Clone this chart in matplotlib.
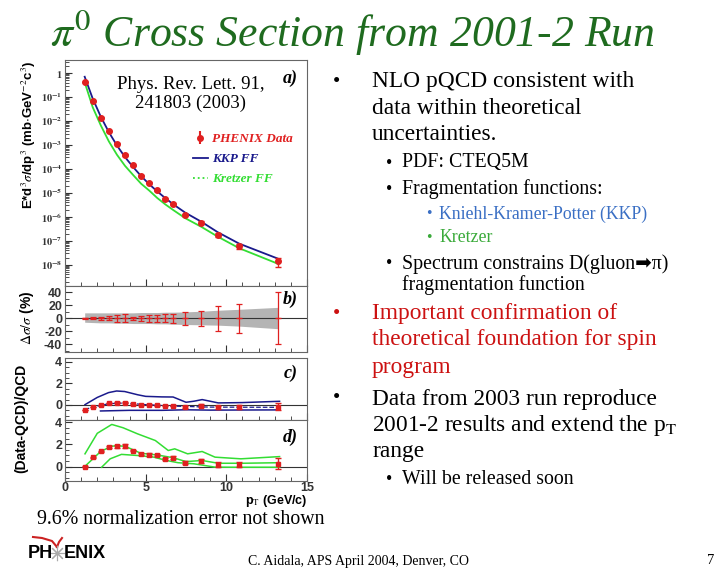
import matplotlib
matplotlib.use('Agg')
import matplotlib.pyplot as plt
import numpy as np
from matplotlib.lines import Line2D
from matplotlib.ticker import MultipleLocator, LogLocator, FixedLocator, NullFormatter

plt.rcParams['mathtext.fontset'] = 'stix'
plt.rcParams['axes.unicode_minus'] = False

# pi0 cross section data, PHENIX 2001-2 run
pt = [1.22, 1.72, 2.22, 2.72, 3.22, 3.72, 4.22, 4.72, 5.22, 5.72,
      6.22, 6.72, 7.45, 8.46, 9.46, 10.8, 13.2]
xsec = [0.41, 0.068, 0.0137, 3.8e-3, 1.1e-3, 3.8e-4, 1.4e-4, 5.2e-5, 2.6e-5, 1.26e-5,
        5.6e-6, 3.4e-6, 1.2e-6, 5.8e-7, 1.8e-7, 5.8e-8, 1.37e-8]
# relative stat error (%)
stat = [1, 1.5, 2, 3, 5, 6, 2, 4, 5, 5, 6, 7, 10, 12, 19, 22, 40]
# relative syst band (%)
syst_up = [8.5, 8.5, 8.5, 8.5, 8.5, 8.5, 8.5, 9, 9, 9, 9.5, 9.5, 10, 11, 12.5, 14, 17]
syst_dn = [6, 6.5, 7, 7, 7.5, 7.5, 8, 8, 8, 8.5, 8.5, 9, 9.5, 10, 10.5, 12, 16]

# NLO pQCD curves
kkp = [0.70, 0.085, 0.0150, 3.4e-3, 9.5e-4, 3.1e-4, 1.2e-4, 5.0e-5, 2.3e-5, 1.15e-5,
       6.0e-6, 3.3e-6, 1.5e-6, 6.2e-7, 2.3e-7, 7.6e-8, 1.8e-8]
kretzer = [0.41, 0.037, 6.5e-3, 1.4e-3, 3.9e-4, 1.34e-4, 5.6e-5, 2.4e-5, 1.25e-5, 6.1e-6,
           3.3e-6, 1.9e-6, 8.8e-7, 3.8e-7, 1.5e-7, 4.9e-8, 1.1e-8]

# (Data-QCD)/QCD
r_kkp = [-0.43, -0.19, 0.0, 0.19, 0.22, 0.22, 0.06, 0.0, 0.0, -0.03,
         -0.06, -0.06, -0.22, -0.06, -0.22, -0.22, -0.15]
r_kre = [0.0, 0.84, 1.38, 1.8, 1.83, 1.83, 1.41, 1.17, 1.08, 1.05,
         0.66, 0.81, 0.36, 0.54, 0.18, 0.18, 0.27]

# scale uncertainty lines, KKP
kkp_up_pt = [1.24, 2.0, 2.7, 3.2, 3.7, 4.5, 5.0, 6.0, 6.7, 7.5, 8.0, 8.5, 9.5, 11.0, 12.5, 13.3]
kkp_up = [0.03, 0.7, 1.15, 1.3, 1.25, 0.95, 0.8, 0.75, 0.74, 0.25, 0.35, 0.5, 0.19, 0.22, 0.3, 0.34]
kkp_lo_pt = [2.2, 4.0, 6.0, 7.5, 9.0, 11.0, 13.3]
kkp_lo = [-0.56, -0.5, -0.5, -0.45, -0.48, -0.47, -0.46]
kkp_mid_pt = [1.22, 2.7, 3.7, 5.0, 7.0, 9.0, 13.3]
kkp_mid = [-0.4, 0.12, 0.18, 0.03, -0.12, -0.2, -0.22]

# scale uncertainty lines, Kretzer
kre_up_pt = [1.24, 2.0, 2.9, 3.6, 4.5, 5.6, 6.4, 6.8, 7.6, 8.5, 9.3, 10.9, 13.3]
kre_up = [1.15, 3.0, 3.8, 3.5, 2.95, 2.35, 1.45, 1.6, 1.15, 1.36, 0.85, 0.7, 0.9]
kre_lo_pt = [2.27, 2.8, 3.5, 4.5, 5.5, 6.3, 7.0, 8.0, 9.3, 10.5, 13.3]
kre_lo = [-0.06, 0.7, 1.1, 1.0, 0.85, 0.55, 0.35, 0.25, -0.05, -0.06, -0.06]
kre_mid_pt = [1.22, 2.2, 2.9, 3.7, 4.7, 5.7, 6.7, 7.5, 8.5, 9.5, 11.0, 13.3]
kre_mid = [0.0, 1.35, 1.85, 1.85, 1.2, 1.05, 0.8, 0.45, 0.55, 0.3, 0.3, 0.35]

pt = np.array(pt)
xsec = np.array(xsec)
stat = np.array(stat)
r_kkp = np.array(r_kkp)
r_kre = np.array(r_kre)

red = '#e02020'
navy = '#1a1a8c'
green = '#33dd33'
sans = 'Liberation Sans'
serif = 'Liberation Serif'

fig = plt.figure(figsize=(7.2, 5.76), dpi=100)

def fx(px):
    return px / 720.0

def fy(py):
    return 1 - py / 576.0

L, W = fx(65), fx(307) - fx(65)
ax_a = fig.add_axes([L, fy(286), W, fy(60) - fy(286)])
ax_b = fig.add_axes([L, fy(352), W, fy(286) - fy(352)])
ax_c = fig.add_axes([L, fy(420), W, fy(358) - fy(420)])
ax_d = fig.add_axes([L, fy(481), W, fy(420) - fy(481)])

for ax in [ax_a, ax_b, ax_c, ax_d]:
    ax.set_xlim(0, 15)
    ax.xaxis.set_major_locator(MultipleLocator(5))
    ax.xaxis.set_minor_locator(MultipleLocator(1))
    ax.tick_params(which='both', direction='in', top=False, right=False,
                   labelsize=9, colors='#333333', pad=2)
    ax.tick_params(which='major', length=5)
    ax.tick_params(which='minor', length=3)
    for s in ax.spines.values():
        s.set_color('#666666')
        s.set_linewidth(0.8)
    if ax is not ax_d:
        ax.set_xticklabels([])

# panel a
ax_a.set_yscale('log')
ax_a.set_ylim(1.3e-9, 3.5)
ax_a.plot(pt, kkp, color=navy, lw=1.3)
ax_a.plot(pt, kretzer, color=green, lw=1.3)
ax_a.errorbar(pt, xsec, yerr=xsec * stat / 100, fmt='o', color=red, ms=4,
              elinewidth=1, capsize=2)
ax_a.yaxis.set_minor_locator(LogLocator(base=10, subs=np.arange(2, 10), numticks=20))
ax_a.yaxis.set_minor_formatter(NullFormatter())
ytl = ['$\\mathbf{1}$'] + ['$\\mathbf{10^{-%d}}$' % k for k in range(1, 9)]
ax_a.set_yticks([10.0 ** -k for k in range(0, 9)])
ax_a.set_yticklabels(ytl, fontsize=7.5)
ax_a.text(0.96, 0.955, 'a)', transform=ax_a.transAxes, ha='right', va='top',
          fontsize=13, fontweight='bold', style='italic', family=serif)
ax_a.text(0.52, 0.93, 'Phys. Rev. Lett. 91,\n241803 (2003)', transform=ax_a.transAxes,
          ha='center', va='top', fontsize=13.5, family=serif, linespacing=1.15)

h_data = ax_a.errorbar([], [], yerr=[], fmt='o', color=red, ms=4, capsize=2)
h_kkp = Line2D([], [], color=navy, lw=1.3)
h_kre = Line2D([], [], color=green, lw=1.3, ls=':')
leg = ax_a.legend([h_data, h_kkp, h_kre], ['PHENIX Data', 'KKP FF', 'Kretzer FF'],
                  loc='upper left', bbox_to_anchor=(0.48, 0.73), frameon=False,
                  handlelength=1.1, handletextpad=0.35, labelspacing=0.6,
                  prop={'family': serif, 'weight': 'bold', 'style': 'italic', 'size': 9.5})
for t, c in zip(leg.get_texts(), [red, navy, green]):
    t.set_color(c)

# panel b
ax_b.set_ylim(-52, 50)
ax_b.fill_between(pt, -np.array(syst_dn), syst_up, color='#b4b4b4', lw=0)
ax_b.axhline(0, color='#333333', lw=0.8)
ax_b.errorbar(pt, np.zeros(len(pt)), yerr=stat, fmt='_', color=red, ms=4,
              elinewidth=0.9, capsize=2.5, capthick=0.9)
ax_b.set_yticks([-40, -20, 0, 20, 40])
ax_b.yaxis.set_minor_locator(MultipleLocator(10))
ax_b.text(0.96, 0.93, 'b)', transform=ax_b.transAxes, ha='right', va='top',
          fontsize=13, fontweight='bold', style='italic', family=serif)

# panel c
ax_c.set_ylim(-1.4, 4.37)
ax_c.axhline(0, color='#333333', lw=0.8)
ax_c.plot(kkp_up_pt, kkp_up, color=navy, lw=1.1)
ax_c.plot(kkp_lo_pt, kkp_lo, color=navy, lw=1.1)
ax_c.plot(kkp_mid_pt, kkp_mid, color=navy, lw=0.9, ls='--')
ax_c.errorbar(pt, r_kkp, yerr=(1 + r_kkp) * stat / 100, fmt='s', color=red, ms=3.5,
              elinewidth=1, capsize=2)
ax_c.set_yticks([0, 2, 4])
ax_c.yaxis.set_minor_locator(MultipleLocator(0.5))
ax_c.text(0.96, 0.9, 'c)', transform=ax_c.transAxes, ha='right', va='top',
          fontsize=13, fontweight='bold', style='italic', family=serif)

# panel d
ax_d.set_ylim(-1.3, 4.2)
ax_d.axhline(0, color='#333333', lw=0.8)
ax_d.plot(kre_up_pt, kre_up, color=green, lw=1.1)
ax_d.plot(kre_lo_pt, kre_lo, color=green, lw=1.1)
ax_d.plot(kre_mid_pt, kre_mid, color=green, lw=1.1)
ax_d.errorbar(pt, r_kre, yerr=(1 + r_kre) * stat / 100, fmt='s', color=red, ms=3.5,
              elinewidth=1, capsize=2)
ax_d.set_yticks([0, 2, 4])
ax_d.yaxis.set_minor_locator(MultipleLocator(0.5))
ax_d.tick_params(axis='x', pad=1)
ax_d.text(0.96, 0.85, 'd)', transform=ax_d.transAxes, ha='right', va='top',
          fontsize=13, fontweight='bold', style='italic', family=serif)

for ax in [ax_a, ax_b, ax_c, ax_d]:
    for lab in ax.get_yticklabels() + ax.get_xticklabels():
        lab.set_family(sans)
        lab.set_fontweight('bold')

# axis labels
fig.text(fx(29), fy(135), 'E*d$^3\\sigma$/dp$^3$ (mb$\\cdot$GeV$^{-2}$c$^3$)', rotation=90,
         ha='center', va='center', fontsize=9.5, fontweight='bold', family=sans)
fig.text(fx(27), fy(318), '$\\Delta\\sigma/\\sigma$ (%)', rotation=90, ha='center',
         va='center', fontsize=10, fontweight='bold', family=sans)
fig.text(fx(21), fy(418), '(Data-QCD)/QCD', rotation=90, ha='center', va='center',
         fontsize=10, fontweight='bold', family=sans)
fig.text(fx(307), fy(501), 'p$_\\mathrm{T}$ (GeV/c)', ha='right', va='center',
         fontsize=9, fontweight='bold', family=sans)

# slide title
fig.text(fx(352), fy(32), '$\\pi^0$ Cross Section from 2001-2 Run', ha='center',
         va='center', fontsize=31.5, style='italic', family=serif, color='#1f6b1f')

# bullets
big, mid, small = 16.8, 14.3, 12.8
lines = [
    (333, 372, 82, '•', 'NLO pQCD consistent with', big, 'black'),
    (None, 372, 108, None, 'data within theoretical', big, 'black'),
    (None, 372, 134, None, 'uncertainties.', big, 'black'),
    (386, 402, 163, '•', 'PDF: CTEQ5M', mid, 'black'),
    (386, 402, 189, '•', 'Fragmentation functions:', mid, 'black'),
    (426, 439, 214, '•', 'Kniehl-Kramer-Potter (KKP)', small, '#3a6fc4'),
    (426, 439, 238, '•', 'Kretzer', small, '#3aaa3a'),
    (386, 402, 264, '•', 'Spectrum constrains D(gluon\u27a1\u03c0)', mid, 'black'),
    (None, 402, 285, None, 'fragmentation function', mid, 'black'),
    (333, 372, 314, '•', 'Important confirmation of', big, '#cc1111'),
    (None, 372, 340, None, 'theoretical foundation for spin', big, '#cc1111'),
    (None, 372, 367, None, 'program', big, '#cc1111'),
    (333, 372, 399, '•', 'Data from 2003 run reproduce', big, 'black'),
    (None, 372, 425, None, '2001-2 results and extend the p$_\\mathrm{T}$', big, 'black'),
    (None, 372, 451, None, 'range', big, 'black'),
    (386, 402, 479, '•', 'Will be released soon', mid, 'black'),
]
for bx, tx, y, b, s, size, c in lines:
    if b:
        fig.text(fx(bx), fy(y), b, ha='left', va='center', fontsize=size * 0.9,
                 color=c, family=serif)
    fig.text(fx(tx), fy(y), s, ha='left', va='center', fontsize=size, color=c,
             family=[serif, 'DejaVu Sans'])

fig.text(fx(37), fy(519), '9.6% normalization error not shown', ha='left', va='center',
         fontsize=14.3, family=serif)
fig.text(fx(248), fy(561), 'C. Aidala, APS April 2004, Denver, CO', ha='left',
         va='center', fontsize=10, family=serif)
fig.text(fx(707), fy(561), '7', ha='left', va='center', fontsize=10.5, family=serif)

# PHENIX logo
fig.text(fx(28), fy(553), 'PH', ha='left', va='center', fontsize=13, fontweight='bold',
         family=sans)
fig.text(fx(64), fy(553), 'ENIX', ha='left', va='center', fontsize=13, fontweight='bold',
         family=sans)
logo = fig.add_axes([fx(28), fy(565), fx(110) - fx(28), fy(533) - fy(565)])
logo.set_xlim(28, 110)
logo.set_ylim(565, 533)
logo.axis('off')
logo.plot([33, 42, 52, 57], [537, 538, 541, 547], color='#cc2222', lw=1.5)
logo.plot([57, 59, 62], [547, 542, 538], color='#cc2222', lw=1.5)
logo.plot([57], [553], marker=(8, 2, 0), ms=11, color='#aaaaaa', mew=0.8)

fig.savefig('out.png', dpi=100)
